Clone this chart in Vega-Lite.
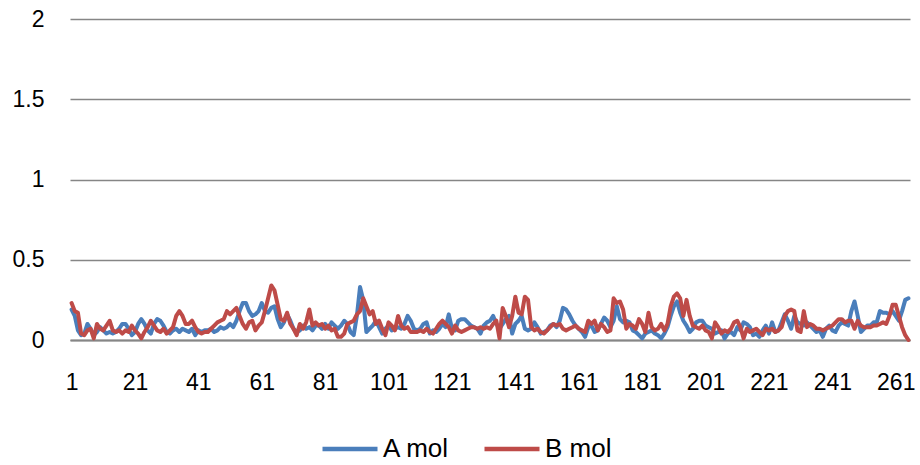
{
"$schema":"https://vega.github.io/schema/vega-lite/v6.json",
"width":840,"height":321,
"autosize":"none",
"padding":{"left":70,"top":19,"right":10,"bottom":125},
"background":"white",
"config":{"view":{"stroke":null},"font":"Liberation Sans"},
"data":{"values":[
{"i":1,"A":0.19,"B":0.23},{"i":2,"A":0.15,"B":0.18},{"i":3,"A":0.06,"B":0.17},{"i":4,"A":0.03,"B":0.04},{"i":5,"A":0.04,"B":0.03},
{"i":6,"A":0.10,"B":0.06},{"i":7,"A":0.07,"B":0.07},{"i":8,"A":0.03,"B":0.01},{"i":9,"A":0.05,"B":0.10},{"i":10,"A":0.08,"B":0.07},
{"i":11,"A":0.06,"B":0.06},{"i":12,"A":0.04,"B":0.09},{"i":13,"A":0.05,"B":0.12},{"i":14,"A":0.04,"B":0.06},{"i":15,"A":0.05,"B":0.05},
{"i":16,"A":0.07,"B":0.06},{"i":17,"A":0.10,"B":0.04},{"i":18,"A":0.10,"B":0.06},{"i":19,"A":0.07,"B":0.05},{"i":20,"A":0.03,"B":0.09},
{"i":21,"A":0.05,"B":0.06},{"i":22,"A":0.10,"B":0.04},{"i":23,"A":0.13,"B":0.01},{"i":24,"A":0.10,"B":0.05},{"i":25,"A":0.06,"B":0.08},
{"i":26,"A":0.04,"B":0.12},{"i":27,"A":0.10,"B":0.09},{"i":28,"A":0.13,"B":0.06},{"i":29,"A":0.12,"B":0.05},{"i":30,"A":0.09,"B":0.07},
{"i":31,"A":0.05,"B":0.04},{"i":32,"A":0.04,"B":0.06},{"i":33,"A":0.06,"B":0.08},{"i":34,"A":0.07,"B":0.15},{"i":35,"A":0.05,"B":0.18},
{"i":36,"A":0.07,"B":0.15},{"i":37,"A":0.06,"B":0.10},{"i":38,"A":0.05,"B":0.10},{"i":39,"A":0.07,"B":0.12},{"i":40,"A":0.03,"B":0.08},
{"i":41,"A":0.06,"B":0.05},{"i":42,"A":0.05,"B":0.04},{"i":43,"A":0.06,"B":0.05},{"i":44,"A":0.06,"B":0.05},{"i":45,"A":0.07,"B":0.07},
{"i":46,"A":0.05,"B":0.09},{"i":47,"A":0.06,"B":0.11},{"i":48,"A":0.08,"B":0.12},{"i":49,"A":0.07,"B":0.13},{"i":50,"A":0.08,"B":0.18},
{"i":51,"A":0.10,"B":0.16},{"i":52,"A":0.08,"B":0.18},{"i":53,"A":0.12,"B":0.20},{"i":54,"A":0.18,"B":0.15},{"i":55,"A":0.23,"B":0.10},
{"i":56,"A":0.23,"B":0.07},{"i":57,"A":0.18,"B":0.11},{"i":58,"A":0.15,"B":0.12},{"i":59,"A":0.16,"B":0.06},{"i":60,"A":0.18,"B":0.09},
{"i":61,"A":0.23,"B":0.11},{"i":62,"A":0.18,"B":0.18},{"i":63,"A":0.17,"B":0.26},{"i":64,"A":0.20,"B":0.34},{"i":65,"A":0.21,"B":0.31},
{"i":66,"A":0.13,"B":0.22},{"i":67,"A":0.08,"B":0.13},{"i":68,"A":0.11,"B":0.12},{"i":69,"A":0.16,"B":0.17},{"i":70,"A":0.12,"B":0.10},
{"i":71,"A":0.07,"B":0.07},{"i":72,"A":0.05,"B":0.03},{"i":73,"A":0.06,"B":0.10},{"i":74,"A":0.09,"B":0.07},{"i":75,"A":0.07,"B":0.11},
{"i":76,"A":0.08,"B":0.19},{"i":77,"A":0.06,"B":0.09},{"i":78,"A":0.09,"B":0.11},{"i":79,"A":0.09,"B":0.09},{"i":80,"A":0.07,"B":0.10},
{"i":81,"A":0.10,"B":0.07},{"i":82,"A":0.07,"B":0.09},{"i":83,"A":0.11,"B":0.06},{"i":84,"A":0.09,"B":0.07},{"i":85,"A":0.07,"B":0.02},
{"i":86,"A":0.09,"B":0.02},{"i":87,"A":0.12,"B":0.04},{"i":88,"A":0.10,"B":0.10},{"i":89,"A":0.05,"B":0.11},{"i":90,"A":0.03,"B":0.12},
{"i":91,"A":0.15,"B":0.16},{"i":92,"A":0.33,"B":0.18},{"i":93,"A":0.25,"B":0.26},{"i":94,"A":0.05,"B":0.21},{"i":95,"A":0.07,"B":0.16},
{"i":96,"A":0.09,"B":0.18},{"i":97,"A":0.12,"B":0.10},{"i":98,"A":0.08,"B":0.12},{"i":99,"A":0.04,"B":0.07},{"i":100,"A":0.07,"B":0.03},
{"i":101,"A":0.09,"B":0.11},{"i":102,"A":0.06,"B":0.09},{"i":103,"A":0.07,"B":0.06},{"i":104,"A":0.08,"B":0.15},{"i":105,"A":0.07,"B":0.09},
{"i":106,"A":0.10,"B":0.07},{"i":107,"A":0.15,"B":0.08},{"i":108,"A":0.12,"B":0.05},{"i":109,"A":0.07,"B":0.05},{"i":110,"A":0.06,"B":0.05},
{"i":111,"A":0.07,"B":0.06},{"i":112,"A":0.10,"B":0.05},{"i":113,"A":0.11,"B":0.07},{"i":114,"A":0.04,"B":0.05},{"i":115,"A":0.06,"B":0.04},
{"i":116,"A":0.05,"B":0.07},{"i":117,"A":0.07,"B":0.10},{"i":118,"A":0.10,"B":0.12},{"i":119,"A":0.08,"B":0.10},{"i":120,"A":0.16,"B":0.08},
{"i":121,"A":0.07,"B":0.04},{"i":122,"A":0.06,"B":0.09},{"i":123,"A":0.12,"B":0.06},{"i":124,"A":0.13,"B":0.05},{"i":125,"A":0.13,"B":0.06},
{"i":126,"A":0.11,"B":0.07},{"i":127,"A":0.09,"B":0.08},{"i":128,"A":0.08,"B":0.08},{"i":129,"A":0.07,"B":0.07},{"i":130,"A":0.04,"B":0.08},
{"i":131,"A":0.09,"B":0.07},{"i":132,"A":0.11,"B":0.08},{"i":133,"A":0.12,"B":0.07},{"i":134,"A":0.15,"B":0.10},{"i":135,"A":0.10,"B":0.12},
{"i":136,"A":0.07,"B":0.01},{"i":137,"A":0.10,"B":0.20},{"i":138,"A":0.13,"B":0.15},{"i":139,"A":0.15,"B":0.08},{"i":140,"A":0.04,"B":0.15},
{"i":141,"A":0.10,"B":0.27},{"i":142,"A":0.12,"B":0.17},{"i":143,"A":0.15,"B":0.16},{"i":144,"A":0.07,"B":0.27},{"i":145,"A":0.06,"B":0.25},
{"i":146,"A":0.07,"B":0.08},{"i":147,"A":0.11,"B":0.06},{"i":148,"A":0.08,"B":0.07},{"i":149,"A":0.04,"B":0.05},{"i":150,"A":0.05,"B":0.04},
{"i":151,"A":0.06,"B":0.06},{"i":152,"A":0.09,"B":0.08},{"i":153,"A":0.10,"B":0.10},{"i":154,"A":0.08,"B":0.09},{"i":155,"A":0.12,"B":0.10},
{"i":156,"A":0.20,"B":0.07},{"i":157,"A":0.19,"B":0.06},{"i":158,"A":0.16,"B":0.07},{"i":159,"A":0.12,"B":0.08},{"i":160,"A":0.09,"B":0.09},
{"i":161,"A":0.07,"B":0.07},{"i":162,"A":0.05,"B":0.06},{"i":163,"A":0.02,"B":0.05},{"i":164,"A":0.08,"B":0.12},{"i":165,"A":0.09,"B":0.10},
{"i":166,"A":0.05,"B":0.12},{"i":167,"A":0.06,"B":0.06},{"i":168,"A":0.10,"B":0.10},{"i":169,"A":0.14,"B":0.08},{"i":170,"A":0.12,"B":0.05},
{"i":171,"A":0.08,"B":0.06},{"i":172,"A":0.12,"B":0.26},{"i":173,"A":0.21,"B":0.23},{"i":174,"A":0.13,"B":0.24},{"i":175,"A":0.11,"B":0.19},
{"i":176,"A":0.12,"B":0.07},{"i":177,"A":0.11,"B":0.10},{"i":178,"A":0.06,"B":0.09},{"i":179,"A":0.05,"B":0.07},{"i":180,"A":0.03,"B":0.13},
{"i":181,"A":0.01,"B":0.10},{"i":182,"A":0.04,"B":0.05},{"i":183,"A":0.05,"B":0.17},{"i":184,"A":0.06,"B":0.08},{"i":185,"A":0.04,"B":0.06},
{"i":186,"A":0.03,"B":0.07},{"i":187,"A":0.01,"B":0.10},{"i":188,"A":0.04,"B":0.06},{"i":189,"A":0.08,"B":0.10},{"i":190,"A":0.15,"B":0.21},
{"i":191,"A":0.21,"B":0.27},{"i":192,"A":0.24,"B":0.29},{"i":193,"A":0.17,"B":0.26},{"i":194,"A":0.12,"B":0.15},{"i":195,"A":0.09,"B":0.25},
{"i":196,"A":0.05,"B":0.15},{"i":197,"A":0.07,"B":0.09},{"i":198,"A":0.11,"B":0.08},{"i":199,"A":0.12,"B":0.07},{"i":200,"A":0.12,"B":0.09},
{"i":201,"A":0.09,"B":0.06},{"i":202,"A":0.08,"B":0.05},{"i":203,"A":0.07,"B":0.01},{"i":204,"A":0.04,"B":0.11},{"i":205,"A":0.05,"B":0.08},
{"i":206,"A":0.06,"B":0.04},{"i":207,"A":0.01,"B":0.06},{"i":208,"A":0.04,"B":0.05},{"i":209,"A":0.05,"B":0.07},{"i":210,"A":0.03,"B":0.11},
{"i":211,"A":0.08,"B":0.12},{"i":212,"A":0.06,"B":0.08},{"i":213,"A":0.11,"B":0.01},{"i":214,"A":0.10,"B":0.07},{"i":215,"A":0.08,"B":0.05},
{"i":216,"A":0.03,"B":0.06},{"i":217,"A":0.04,"B":0.07},{"i":218,"A":0.02,"B":0.05},{"i":219,"A":0.06,"B":0.03},{"i":220,"A":0.09,"B":0.07},
{"i":221,"A":0.04,"B":0.06},{"i":222,"A":0.11,"B":0.07},{"i":223,"A":0.05,"B":0.05},{"i":224,"A":0.06,"B":0.06},{"i":225,"A":0.11,"B":0.08},
{"i":226,"A":0.16,"B":0.15},{"i":227,"A":0.12,"B":0.18},{"i":228,"A":0.07,"B":0.19},{"i":229,"A":0.15,"B":0.18},{"i":230,"A":0.11,"B":0.06},
{"i":231,"A":0.10,"B":0.05},{"i":232,"A":0.09,"B":0.18},{"i":233,"A":0.11,"B":0.08},{"i":234,"A":0.09,"B":0.10},{"i":235,"A":0.07,"B":0.09},
{"i":236,"A":0.05,"B":0.07},{"i":237,"A":0.06,"B":0.07},{"i":238,"A":0.02,"B":0.06},{"i":239,"A":0.07,"B":0.07},{"i":240,"A":0.09,"B":0.08},
{"i":241,"A":0.06,"B":0.09},{"i":242,"A":0.05,"B":0.11},{"i":243,"A":0.09,"B":0.13},{"i":244,"A":0.11,"B":0.13},{"i":245,"A":0.10,"B":0.11},
{"i":246,"A":0.09,"B":0.12},{"i":247,"A":0.18,"B":0.12},{"i":248,"A":0.24,"B":0.07},{"i":249,"A":0.15,"B":0.12},{"i":250,"A":0.05,"B":0.09},
{"i":251,"A":0.07,"B":0.08},{"i":252,"A":0.09,"B":0.08},{"i":253,"A":0.09,"B":0.08},{"i":254,"A":0.11,"B":0.09},{"i":255,"A":0.11,"B":0.09},
{"i":256,"A":0.18,"B":0.10},{"i":257,"A":0.17,"B":0.11},{"i":258,"A":0.17,"B":0.10},{"i":259,"A":0.16,"B":0.15},{"i":260,"A":0.18,"B":0.22},
{"i":261,"A":0.15,"B":0.22},{"i":262,"A":0.12,"B":0.15},{"i":263,"A":0.18,"B":0.08},{"i":264,"A":0.25,"B":0.03},{"i":265,"A":0.26,"B":0.00}
]},
"transform":[{"fold":["A","B"],"as":["key","value"]},{"lookup":"key","from":{"data":{"values":[{"key":"A","series":"A mol"},{"key":"B","series":"B mol"}]},"key":"key","fields":["series"]}}],
"mark":{"type":"line","strokeWidth":4,"strokeJoin":"round","strokeCap":"round"},
"encoding":{
"x":{"field":"i","type":"quantitative","scale":{"domain":[0.5,265.5],"nice":false,"zero":false},
"axis":{"title":null,"values":[1,21,41,61,81,101,121,141,161,181,201,221,241,261],"grid":false,"ticks":false,"domainColor":"#868686","domainWidth":2,"labelFontSize":23,"labelColor":"#000000","labelBaseline":"top","labelPadding":31,"labelFlush":false,"labelOverlap":false}},
"y":{"field":"value","type":"quantitative","scale":{"domain":[0,2],"nice":false},
"axis":{"title":null,"values":[0,0.5,1,1.5,2],"format":"~g","domain":false,"ticks":false,"gridColor":"#868686","gridWidth":1.3,"labelFontSize":23,"labelColor":"#000000","labelPadding":26}},
"color":{"field":"series","type":"nominal","scale":{"domain":["A mol","B mol"],"range":["#4A7EBB","#BE4B48"]},
"legend":{"title":null,"orient":"none","legendX":250,"legendY":400,"direction":"horizontal","symbolType":"stroke","symbolSize":3025,"symbolStrokeWidth":4.5,"labelFontSize":26,"labelColor":"#000000","labelOffset":3,"columnPadding":25,"padding":0}}
}
}
